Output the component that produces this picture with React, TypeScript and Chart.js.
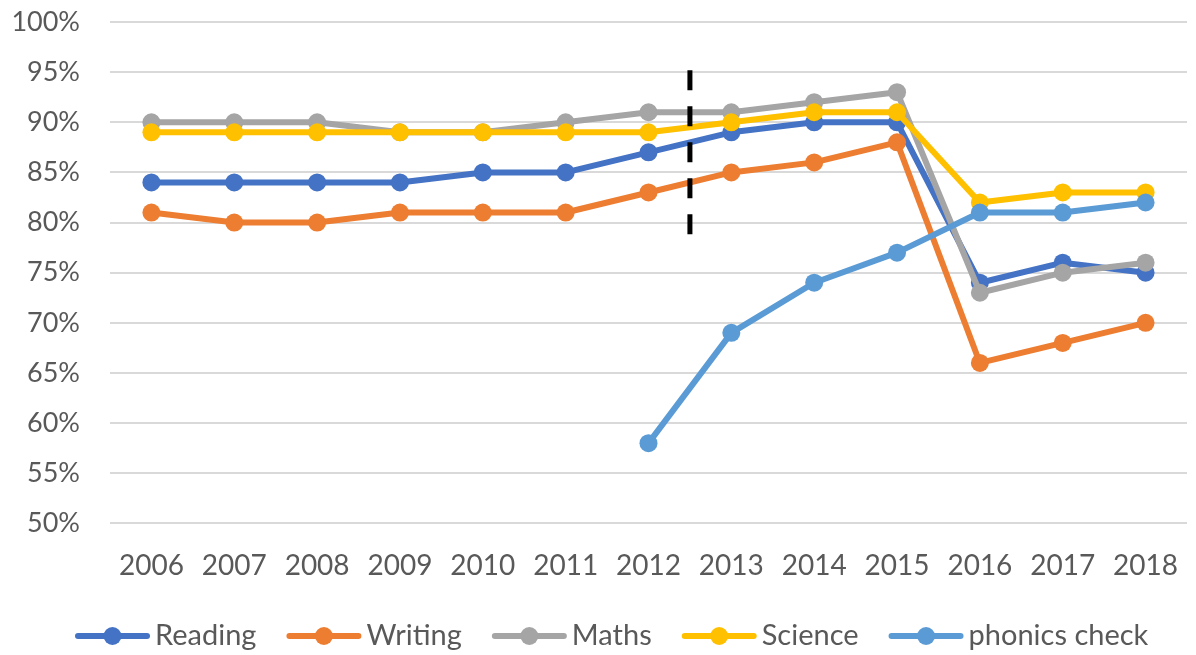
import React, { useEffect, useRef } from "react";
import { Chart, registerables } from "chart.js";

Chart.register(...registerables);

const years = ["2006", "2007", "2008", "2009", "2010", "2011", "2012", "2013", "2014", "2015", "2016", "2017", "2018"];
const reading = [84, 84, 84, 84, 85, 85, 87, 89, 90, 90, 74, 76, 75];
const writing = [81, 80, 80, 81, 81, 81, 83, 85, 86, 88, 66, 68, 70];
const maths = [90, 90, 90, 89, 89, 90, 91, 91, 92, 93, 73, 75, 76];
const science = [89, 89, 89, 89, 89, 89, 89, 90, 91, 91, 82, 83, 83];
const phonics = [null, null, null, null, null, null, 58, 69, 74, 77, 81, 81, 82];

const seriesNames = ["Reading", "Writing", "Maths", "Science", "phonics check"];
const seriesColors = ["#4472C4", "#ED7D31", "#A5A5A5", "#FFC000", "#5B9BD5"];

// dashed divider between 2012 and 2013 (category index 6.5), from/to in %
const dividerAt = 6.5;
const dividerFrom = 95.2;
const dividerTo = 78.6;

const FONT = "Lato, 'Open Sans', sans-serif";
const TEXT = "#595959";

const dividerPlugin = {
  id: "divider",
  afterDatasetsDraw(chart: any) {
    const { ctx, scales } = chart;
    const x = scales.x.getPixelForValue(dividerAt);
    const y1 = scales.y.getPixelForValue(dividerFrom);
    const y2 = scales.y.getPixelForValue(dividerTo);
    ctx.save();
    ctx.strokeStyle = "#000000";
    ctx.lineWidth = 5;
    ctx.setLineDash([20, 16]);
    ctx.beginPath();
    ctx.moveTo(x, y1);
    ctx.lineTo(x, y2);
    ctx.stroke();
    ctx.restore();
  },
};

const legendPlugin = {
  id: "lineLegend",
  afterDraw(chart: any) {
    const { ctx } = chart;
    const y = 636;
    const lineLen = 75;
    const gapText = 5;
    const gapNext = 30;
    ctx.save();
    ctx.font = `29px ${FONT}`;
    ctx.textBaseline = "middle";
    let x = 75;
    for (const d of chart.data.datasets) {
      const color = d.borderColor;
      const w = ctx.measureText(d.label).width;
      ctx.strokeStyle = color;
      ctx.lineWidth = 6;
      ctx.lineCap = "round";
      ctx.beginPath();
      ctx.moveTo(x + 3, y);
      ctx.lineTo(x + lineLen - 3, y);
      ctx.stroke();
      ctx.fillStyle = color;
      ctx.beginPath();
      ctx.arc(x + lineLen / 2, y, 9, 0, Math.PI * 2);
      ctx.fill();
      ctx.fillStyle = TEXT;
      ctx.textAlign = "left";
      ctx.fillText(d.label, x + lineLen + gapText, y);
      x += lineLen + gapText + w + gapNext;
    }
    ctx.restore();
  },
};

export default function App() {
  const ref = useRef<HTMLCanvasElement | null>(null);
  useEffect(() => {
    document.body.style.margin = "0";
    const allSeries = [reading, writing, maths, science, phonics];
    const chart = new Chart(ref.current as HTMLCanvasElement, {
      type: "line",
      data: {
        labels: years,
        datasets: allSeries.map((data, i) => ({
          label: seriesNames[i],
          data,
          borderColor: seriesColors[i],
          backgroundColor: seriesColors[i],
          pointBackgroundColor: seriesColors[i],
          pointBorderWidth: 0,
          pointRadius: 9,
          borderWidth: 6,
          borderJoinStyle: "round",
          borderCapStyle: "round",
          tension: 0,
          spanGaps: false,
          order: allSeries.length - i,
        })),
      },
      options: {
        animation: false,
        responsive: false,
        maintainAspectRatio: false,
        layout: { padding: { top: 22, right: 4, left: 0, bottom: 46 } },
        plugins: {
          legend: { display: false },
          tooltip: { enabled: false },
        },
        scales: {
          x: {
            offset: true,
            grid: { display: false, drawTicks: false },
            border: { display: false },
            ticks: { color: TEXT, font: { family: FONT, size: 28 }, padding: 26, maxRotation: 0, autoSkip: false },
            afterFit: (s: any) => {
              s.paddingLeft = 0;
              s.paddingRight = 0;
            },
          },
          y: {
            min: 50,
            max: 100,
            grid: { color: "#D9D9D9", lineWidth: 2, drawTicks: false },
            border: { display: false },
            ticks: {
              stepSize: 5,
              color: TEXT,
              font: { family: FONT, size: 27 },
              padding: 30,
              callback: (v: any) => `${v}%`,
            },
            afterFit: (s: any) => {
              s.width = 110;
              s.paddingTop = 0;
              s.paddingBottom = 0;
            },
          },
        },
      },
      plugins: [dividerPlugin, legendPlugin],
    });
    return () => chart.destroy();
  }, []);
  return (
    <div style={{ position: "absolute", left: 0, top: 0, width: 1196, height: 655, background: "#fff" }}>
      <canvas ref={ref} width={1196} height={655} style={{ display: "block" }} />
    </div>
  );
}
